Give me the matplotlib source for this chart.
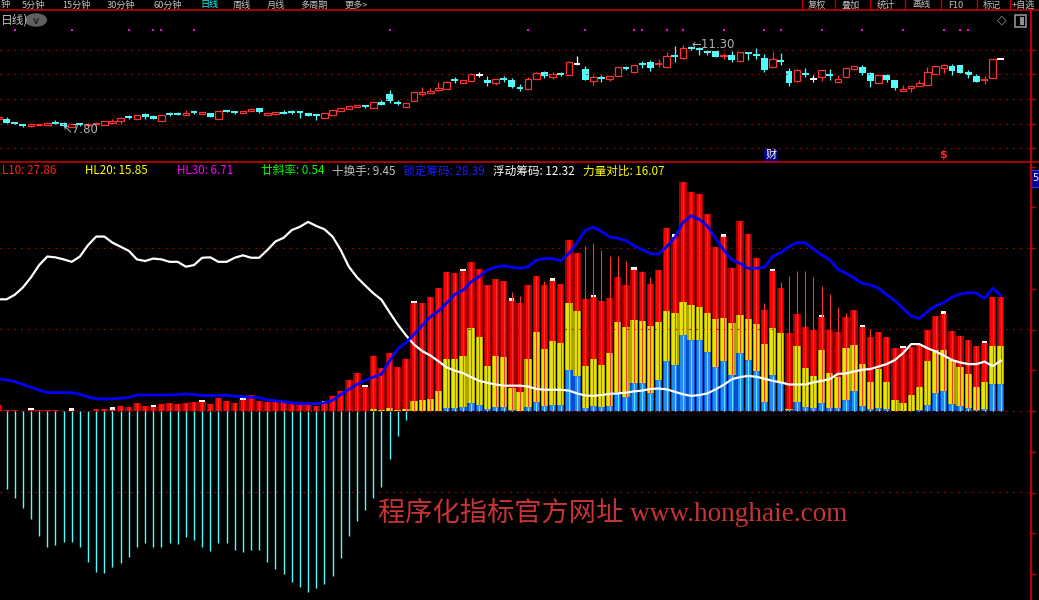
import numpy as np
import matplotlib
matplotlib.use("Agg")
import matplotlib.pyplot as plt
from matplotlib.patches import Rectangle, Circle
from matplotlib.lines import Line2D

plt.rcParams['font.family'] = ['Noto Sans CJK SC', 'DejaVu Sans']

#%% daily candles (price)
opens = [8.16, 8.14, 7.98, 7.89, 7.84, 7.89, 7.90, 7.96, 7.96, 7.82, 7.94, 7.87, 7.92, 7.90, 7.99, 8.04,
         8.27, 8.13, 8.36, 8.27, 8.07, 8.35, 8.36, 8.33, 8.43, 8.37, 8.40, 8.16, 8.53, 8.45, 8.41, 8.47,
         8.61, 8.33, 8.34, 8.46, 8.43, 8.45, 8.40, 8.30, 8.20, 8.33, 8.50, 8.59, 8.67, 8.69, 8.63, 8.87,
         9.21, 8.87, 8.67, 8.90, 9.23, 9.27, 9.39, 9.44, 9.84, 9.67, 9.79, 10.04, 9.81, 9.67, 9.88, 9.81,
         9.49, 9.44, 9.87, 10.16, 9.96, 10.09, 10.04, 10.50, 10.29, 9.79, 9.89, 9.84, 10.00, 10.35, 10.17, 10.51,
         10.57, 10.49, 10.36, 10.85, 10.77, 11.19, 11.13, 11.02, 11.04, 10.83, 10.90, 10.61, 10.99, 10.88, 10.76, 10.39,
         10.63, 10.21, 9.79, 10.06, 9.87, 9.93, 10.02, 9.74, 9.93, 10.27, 10.37, 10.11, 9.70, 10.03, 9.81, 9.36,
         9.46, 9.54, 9.61, 10.09, 10.31, 10.41, 10.44, 10.17, 9.99, 9.82, 9.91, 10.71]
highs = [8.23, 8.23, 8.03, 7.94, 7.93, 7.93, 8.01, 8.10, 8.00, 7.94, 7.99, 7.97, 8.01, 8.04, 8.13, 8.24,
         8.33, 8.30, 8.40, 8.31, 8.30, 8.44, 8.46, 8.53, 8.50, 8.43, 8.40, 8.49, 8.53, 8.50, 8.49, 8.63,
         8.61, 8.40, 8.44, 8.53, 8.54, 8.46, 8.40, 8.36, 8.40, 8.53, 8.61, 8.70, 8.73, 8.74, 8.86, 8.96,
         9.39, 8.96, 8.81, 9.29, 9.50, 9.46, 9.73, 9.79, 9.94, 9.80, 10.13, 10.16, 9.97, 9.84, 9.99, 9.90,
         9.63, 9.96, 10.16, 10.20, 10.14, 10.17, 10.61, 10.84, 10.41, 10.01, 10.03, 9.97, 10.37, 10.41, 10.46, 10.63,
         10.67, 10.71, 11.01, 11.27, 11.30, 11.29, 11.21, 11.10, 11.04, 10.97, 11.06, 11.01, 10.99, 11.19, 10.93, 11.01,
         10.97, 10.33, 10.29, 10.33, 10.04, 10.23, 10.29, 10.01, 10.31, 10.40, 10.46, 10.16, 10.01, 10.07, 9.81, 9.60,
         9.56, 9.80, 10.36, 10.41, 10.50, 10.50, 10.44, 10.24, 10.06, 10.00, 10.70, 10.71]
lows = [8.15, 7.97, 7.93, 7.81, 7.81, 7.89, 7.90, 7.93, 7.80, 7.81, 7.86, 7.81, 7.87, 7.90, 7.93, 7.94,
        8.14, 8.13, 8.16, 8.16, 8.07, 8.27, 8.31, 8.33, 8.36, 8.37, 8.21, 8.16, 8.43, 8.37, 8.41, 8.47,
        8.41, 8.33, 8.34, 8.37, 8.37, 8.19, 8.29, 8.11, 8.20, 8.33, 8.50, 8.59, 8.67, 8.63, 8.63, 8.74,
        8.84, 8.74, 8.67, 8.90, 9.14, 9.27, 9.36, 9.44, 9.69, 9.67, 9.79, 9.93, 9.57, 9.61, 9.73, 9.49,
        9.33, 9.44, 9.87, 9.91, 9.87, 10.00, 10.04, 10.44, 9.81, 9.61, 9.74, 9.79, 10.00, 10.23, 10.17, 10.34,
        10.21, 10.39, 10.36, 10.60, 10.73, 11.10, 10.90, 10.90, 10.81, 10.71, 10.60, 10.61, 10.69, 10.73, 10.17, 10.39,
        10.47, 9.57, 9.71, 9.96, 9.73, 9.79, 9.81, 9.74, 9.93, 10.23, 10.04, 9.53, 9.70, 9.71, 9.40, 9.36,
        9.31, 9.54, 9.61, 10.09, 10.13, 10.04, 10.13, 9.90, 9.74, 9.66, 9.91, 10.71]
closes = [8.22, 7.97, 7.96, 7.88, 7.93, 7.93, 7.97, 7.95, 7.83, 7.93, 7.92, 7.91, 7.94, 8.04, 8.07, 8.19,
          8.20, 8.30, 8.23, 8.16, 8.30, 8.34, 8.35, 8.40, 8.42, 8.43, 8.24, 8.49, 8.46, 8.44, 8.49, 8.57,
          8.46, 8.40, 8.44, 8.37, 8.42, 8.44, 8.29, 8.29, 8.40, 8.53, 8.61, 8.70, 8.73, 8.68, 8.86, 8.74,
          8.93, 8.79, 8.81, 9.29, 9.31, 9.36, 9.47, 9.73, 9.82, 9.80, 10.06, 10.04, 9.70, 9.84, 9.86, 9.53,
          9.48, 9.84, 10.11, 10.00, 10.06, 10.07, 10.57, 10.50, 9.81, 9.94, 9.88, 9.97, 10.37, 10.34, 10.46, 10.50,
          10.34, 10.51, 10.84, 10.83, 11.17, 11.18, 11.12, 11.01, 10.81, 10.90, 10.67, 11.01, 10.98, 10.87, 10.24, 10.70,
          10.62, 9.70, 10.23, 10.05, 9.87, 10.23, 10.01, 9.86, 10.31, 10.40, 10.13, 9.79, 10.01, 9.81, 9.49, 9.43,
          9.56, 9.69, 10.16, 10.41, 10.44, 10.21, 10.13, 10.04, 9.74, 9.84, 10.70, 10.71]

#%% indicator values
l10 = [1.5, 0.2, 0.2, 0.1, 0.3, 0.2, 0.2, 0.2, 0.1, 0.2, 0.0, 0.0, 0.5, 0.5, 0.4, 1.2,
       1.0, 2.0, 1.2, 1.0, 1.8, 2.0, 1.8, 2.0, 2.3, 2.3, 1.6, 3.2, 2.5, 2.0, 2.9, 3.9,
       2.5, 2.3, 2.3, 2.0, 1.8, 1.6, 1.4, 1.2, 2.0, 3.7, 4.9, 7.6, 9.3, 6.0, 13.5, 10.6,
       14.2, 10.8, 12.8, 26.5, 26.5, 28.0, 30.2, 34.1, 33.9, 34.4, 36.6, 34.8, 30.9, 32.4, 31.9, 27.2,
       26.5, 30.9, 33.1, 30.9, 32.1, 31.2, 42.0, 38.8, 27.5, 28.0, 27.0, 27.7, 32.9, 30.9, 34.8, 34.1,
       31.2, 34.6, 44.9, 42.9, 56.2, 53.7, 53.3, 48.3, 40.2, 42.9, 35.1, 46.6, 43.4, 37.5, 24.8, 34.4,
       30.2, 19.1, 23.8, 20.6, 19.9, 23.1, 19.9, 19.4, 23.1, 24.8, 20.6, 18.2, 19.4, 18.2, 15.5, 15.5,
       15.7, 16.2, 19.9, 23.3, 24.0, 19.6, 18.4, 17.4, 16.0, 16.7, 27.86, 27.86]
hl20 = [0.0] * 46 + [0.5, 0.2, 0.7, 0.2, 0.4, 2.5, 2.7, 2.9, 4.9, 12.8, 12.8, 13.5, 20.4, 18.2, 11.0, 13.5,
       13.3, 5.6, 4.7, 12.8, 19.4, 15.2, 17.2, 16.7, 26.5, 24.5, 11.0, 12.8, 11.3, 14.2, 21.8, 20.6,
       22.3, 22.1, 20.9, 21.8, 24.5, 24.0, 26.7, 26.0, 25.5, 24.0, 22.6, 22.8, 21.6, 23.6, 22.6, 21.3,
       16.4, 20.4, 19.1, 0.5, 16.0, 10.6, 8.6, 15.0, 9.3, 8.3, 15.5, 16.2, 11.5, 7.1, 10.3, 7.1,
       2.7, 2.0, 3.9, 5.9, 12.3, 15.0, 15.0, 12.5, 10.8, 9.1, 5.9, 7.1, 15.85, 15.85]
hl30 = [0.0] * 55 + [0.7, 0.7, 1.0, 2.0, 1.5, 0.5, 1.0, 1.0, 0.2, 0.0, 1.0, 2.2, 1.2, 1.5, 1.5, 10.1,
       8.6, 0.7, 1.2, 1.0, 1.2, 4.7, 3.4, 6.9, 6.9, 4.4, 7.6, 12.3, 11.3, 18.7, 17.4, 17.4,
       14.5, 10.8, 12.3, 8.8, 14.2, 12.5, 9.8, 2.2, 8.8, 7.1, 0.2, 2.2, 1.0, 0.7, 2.0, 0.7,
       0.7, 2.7, 4.9, 1.2, 0.5, 0.7, 0.5, 0.0, 0.0, 0.0, 0.2, 1.5, 4.4, 4.9, 1.7, 1.2,
       0.7, 0.2, 0.5, 6.71, 6.71]
# thin red stick (visible above the bars on some days)
turnover = list(l10)
for k, v in {63: 29.2, 64: 28.2, 67: 31.9, 72: 40.5, 73: 41.2, 74: 39.5, 75: 38.0, 76: 38.0,
             77: 36.8, 79: 34.4, 80: 32.9, 94: 26.5, 96: 31.7, 97: 33.1, 98: 34.4, 99: 34.4,
             100: 32.9, 101: 30.7, 102: 28.7, 103: 25.5, 104: 24.0, 107: 20.1}.items():
    turnover[k] = v
# cyan sticks below zero
power = [-18.0, -19.2, -21.3, -23.7, -26.6, -30.6, -33.5, -32.9, -32.2, -32.2, -33.5, -37.0, -39.6, -39.8, -38.2, -37.2,
         -35.9, -33.5, -32.5, -33.5, -33.3, -32.5, -32.7, -31.0, -31.7, -33.5, -34.3, -32.5, -32.5, -34.1, -34.7, -34.1,
         -34.1, -37.0, -38.9, -40.0, -42.1, -43.1, -44.5, -43.5, -42.5, -40.4, -36.2, -30.6, -26.9, -24.3, -21.4, -18.6,
         -11.9, -6.1, -2.2] + [0.0] * 73
float_chips = [27.4, 27.4, 28.5, 30.3, 32.8, 35.8, 37.9, 37.7, 37.2, 36.6, 37.9, 40.7, 42.8, 42.8, 41.3, 40.3,
               39.3, 37.2, 36.8, 37.4, 37.2, 36.6, 36.6, 35.4, 35.8, 37.6, 37.7, 36.6, 36.6, 37.6, 38.2, 37.6,
               37.6, 39.5, 41.6, 42.5, 44.4, 45.2, 46.4, 45.4, 44.6, 42.8, 39.5, 35.4, 32.8, 30.8, 28.9, 27.3,
               24.2, 21.2, 18.6, 16.3, 14.7, 13.6, 12.2, 10.7, 9.9, 9.3, 8.3, 7.4, 6.9, 6.5, 6.2, 6.2,
               6.2, 6.0, 5.4, 5.2, 5.2, 5.2, 5.0, 4.3, 3.8, 3.7, 3.9, 4.2, 4.3, 4.5, 4.8, 5.0,
               5.4, 5.5, 5.3, 4.7, 4.1, 3.7, 3.9, 4.3, 5.3, 6.4, 7.8, 8.3, 8.6, 8.4, 7.9, 7.4,
               7.0, 6.5, 6.5, 6.5, 7.0, 7.4, 7.8, 9.1, 9.2, 9.7, 10.1, 10.3, 10.9, 11.5, 12.5, 14.2,
               16.4, 16.4, 15.4, 14.6, 13.6, 12.5, 11.9, 11.5, 11.5, 12.1, 11.0, 12.32]
locked_chips = [7.9, 7.6, 7.2, 6.5, 5.8, 5.1, 4.5, 4.5, 4.5, 4.5, 4.1, 3.4, 3.0, 2.9, 3.0, 3.1,
                3.3, 3.9, 3.9, 3.9, 3.9, 3.9, 4.0, 4.2, 4.0, 3.8, 3.8, 3.8, 3.9, 3.6, 3.5, 3.4,
                3.3, 2.7, 2.5, 2.3, 2.0, 1.8, 1.8, 1.8, 2.0, 2.6, 4.0, 5.3, 6.5, 7.5, 8.3, 9.0,
                12.3, 15.2, 16.8, 18.8, 21.0, 23.1, 24.5, 26.5, 28.6, 29.6, 31.7, 33.0, 34.6, 35.3, 35.6, 35.3,
                35.0, 35.4, 37.0, 37.4, 37.4, 36.9, 38.6, 41.3, 44.3, 45.1, 44.0, 42.7, 42.4, 41.8, 40.5, 39.6,
                38.6, 38.5, 40.3, 42.6, 46.3, 47.9, 47.0, 45.4, 42.4, 39.5, 37.1, 36.2, 35.0, 35.0, 35.3, 37.9,
                38.9, 40.3, 41.3, 41.3, 39.7, 38.3, 37.1, 34.8, 33.8, 32.6, 31.3, 30.9, 30.1, 28.5, 27.1, 25.2,
                23.3, 22.7, 24.4, 25.8, 26.6, 27.9, 28.7, 29.0, 28.9, 27.6, 30.1, 28.39]
week_marks = [4, 9, 14, 19, 25, 30, 35, 40, 45, 51, 57, 63, 68, 73, 78, 83, 89, 95, 101, 106, 111, 116, 121]
dot_days = [2, 9, 16, 19, 20, 24, 48, 65, 72, 78, 79, 82, 84, 89, 94, 96, 101, 106, 111, 116, 118, 119]

legend = [("L10: 27.86", '#ff2020'), ("HL20: 15.85", '#ffff00'), ("HL30: 6.71", '#ff00ff'),
          ("廿斜率: 0.54", '#00ff00'), ("十换手: 9.45", '#c0c0c0'), ("锁定筹码: 28.39", '#1c1cff'),
          ("浮动筹码: 12.32", '#ffffff'), ("力量对比: 16.07", '#ffff00')]
periods = ["钟", "5分钟", "15分钟", "30分钟", "60分钟", "日线", "周线", "月线", "多周期", "更多>"]
buttons = ["复权", "叠加", "统计", "画线", "F10", "标记", "+自选"]

#%% figure set up in screen pixels
W, H = 1039, 600
fig = plt.figure(figsize=(W / 100, H / 100), dpi=100, facecolor='black')
fx = lambda px: px / W
fy = lambda py: 1 - py / H
grid_red = '#c00000'
dotted = (0, (1.4, 4.8))

x = np.arange(len(opens))
xlim = (0.196, 126.58)

axp = fig.add_axes([0, fy(160), fx(1030), (160 - 11) / H])
axp.set_facecolor('black')
axp.set_xlim(xlim)
axp.set_ylim(6.386, 12.77)
axp.axis('off')

for py in [50.3, 74.3, 99.3, 124.3, 148.3]:
    f = (160 - py) / 149
    axp.plot([0, 1], [f, f], transform=axp.transAxes, color=grid_red, lw=0.8, ls=dotted)

up_c, dn_c = '#ff3232', '#54fcfc'
for i in x:
    o, h, l, c = opens[i], highs[i], lows[i], closes[i]
    col = up_c if c > o else (dn_c if c < o else '#ffffff')
    top, bot = max(o, c), min(o, c)
    if c > o:
        axp.vlines(i, top, h, color=col, lw=0.9)
        axp.vlines(i, l, bot, color=col, lw=0.9)
    else:
        axp.vlines(i, l, h, color=col, lw=0.9)
    if top - bot < 0.025:
        axp.hlines((top + bot) / 2, i - 0.42, i + 0.42, color=col, lw=1.4)
    elif c > o:
        axp.add_patch(Rectangle((i - 0.4, bot), 0.8, top - bot, facecolor='black', edgecolor=col, lw=0.9))
    else:
        axp.add_patch(Rectangle((i - 0.42, bot), 0.84, top - bot, facecolor=col, edgecolor=col, lw=0))

axp.scatter(dot_days, [0.8725] * len(dot_days), transform=axp.get_xaxis_transform(),
            marker='s', s=3, color='#ff00ff', lw=0)

lo_i = int(np.argmin(lows))
hi_i = int(np.argmax(highs))
axp.text(lo_i - 0.1, lows[lo_i] - 0.1, "\u2196" + f"{lows[lo_i]:.2f}", color='#b0b0b0', fontsize=8.5,
         va='center', ha='left', family=['DejaVu Sans'])
axp.text(hi_i + 1.1, highs[hi_i] + 0.02, "\u2190" + f"{highs[hi_i]:.2f}", color='#b0b0b0', fontsize=8.5,
         va='center', ha='left', family=['DejaVu Sans'])

#%% indicator panel
axi = fig.add_axes([0, 0, fx(1030), (600 - 162) / H])
axi.set_facecolor('black')
axi.set_xlim(xlim)
axi.set_ylim(-46.4, 61.1)
axi.axis('off')

for v in [40, 20, 0, -20]:
    axi.axhline(v, color=grid_red, lw=0.8, ls=dotted)

axi.vlines(x, 0, power, color='#54fcfc', lw=1.0)
axi.bar(x, l10, width=0.9, color='#a00000', lw=0)
axi.bar(x, l10, width=0.55, color='#ff0000', lw=0)
axi.bar(x, hl20, width=0.9, color='#a8a800', lw=0)
axi.bar(x, hl20, width=0.62, color='#e6e600', lw=0)
axi.vlines(x, 0, turnover, color='#ff3030', lw=0.8)
axi.bar(x, hl30, width=0.9, color='#0050d0', lw=0)
axi.bar(x, hl30, width=0.62, color='#1a8cff', lw=0)
axi.vlines(x, 0, hl30, color='#60e0ff', lw=0.8)
marks = np.array(week_marks)
axi.bar(marks, 0.55, bottom=np.array(l10)[marks] - 0.1, width=0.65, color='white', lw=0)

axi.plot(x, float_chips, color='white', lw=1.6)
axi.plot(x, locked_chips, color='#0000ff', lw=2.0)

axi.text(378 / 1030, 0.2, "程序化指标官方网址 www.honghaie.com", transform=axi.transAxes,
         color='#c83434', fontsize=19.6, ha='left', va='center',
         family=['Liberation Serif', 'Noto Sans CJK SC'])

#%% frame, toolbar and labels
fig.add_artist(Line2D([0, 1], [fy(10.3), fy(10.3)], color='#c00000', lw=1.2))
fig.add_artist(Line2D([0, 1], [fy(161.5), fy(161.5)], color='#c00000', lw=1.2))
fig.add_artist(Line2D([fx(1030.5), fx(1030.5)], [fy(11), 0], color='#c00000', lw=1.5))
for py in [50.3, 74.3, 99.3, 124.3, 148.3]:
    fig.add_artist(Line2D([fx(1031), fx(1035)], [fy(py), fy(py)], color='#c00000', lw=1))
for v in range(-40, 61, 10):
    py = 411 - 4.075 * v
    fig.add_artist(Line2D([fx(1031), fx(1035)], [fy(py), fy(py)], color='#c00000', lw=1))

px_periods = [1, 22, 62, 107, 153, 200, 233, 267, 300, 345]
for t, px in zip(periods, px_periods):
    fig.text(fx(px), fy(5), t, color='#00ffff' if t == "日线" else '#c0c0c0', fontsize=6.6,
             ha='left', va='center')
for px in [801.7, 835.3, 870.3, 905.3, 940.7, 976.7, 1010]:
    fig.add_artist(Line2D([fx(px), fx(px)], [fy(0), fy(10)], color='#c00000', lw=1))
for t, px in zip(buttons, [808, 842, 877, 912, 948, 983, 1012]):
    fig.text(fx(px), fy(5), t, color='#c0c0c0', fontsize=6.6, ha='left', va='center')

fig.text(fx(1), fy(20), "日线)", color='#c0c0c0', fontsize=8.5, ha='left', va='center')
fig.add_artist(Circle((fx(36), fy(20)), 6 / H, transform=fig.transFigure, color='#606060'))
fig.text(fx(36), fy(20.5), "v", color='#2a2a2a', fontsize=7, ha='center', va='center',
         family=['DejaVu Sans'], fontweight='bold')
fig.text(fx(1002), fy(20), "\u25c7", color='#909090', fontsize=9, ha='center', va='center',
         family=['DejaVu Sans'])
fig.add_artist(Rectangle((fx(1015), fy(27)), 11 / W, 12 / H, transform=fig.transFigure,
                         facecolor='none', edgecolor='#909090', lw=1.2))
fig.add_artist(Rectangle((fx(1020), fy(25)), 4 / W, 8 / H, transform=fig.transFigure,
                         facecolor='#909090', lw=0))

fig.add_artist(Rectangle((fx(764), fy(162)), 14 / W, 13 / H, transform=fig.transFigure,
                         facecolor='#000080', lw=0))
fig.text(fx(771), fy(155), "财", color='white', fontsize=8, ha='center', va='center')
fig.text(fx(943), fy(155), "$", color='#ff2020', fontsize=8, ha='center', va='center',
         family=['DejaVu Sans'], fontweight='bold')
fig.add_artist(Rectangle((fx(1031), fy(187)), 8 / W, 17 / H, transform=fig.transFigure,
                         facecolor='#000090', edgecolor='#3030ff', lw=0.8))
fig.text(fx(1035.5), fy(178), "5", color='white', fontsize=7, ha='center', va='center',
         family=['DejaVu Sans'])

px_legend = [2, 85, 177, 261, 332, 403, 493, 583]
for (t, c), px in zip(legend, px_legend):
    fig.text(fx(px), fy(171), t, color=c, fontsize=8.4, ha='left', va='center')

fig.savefig("out.png", dpi=100, facecolor='black')
